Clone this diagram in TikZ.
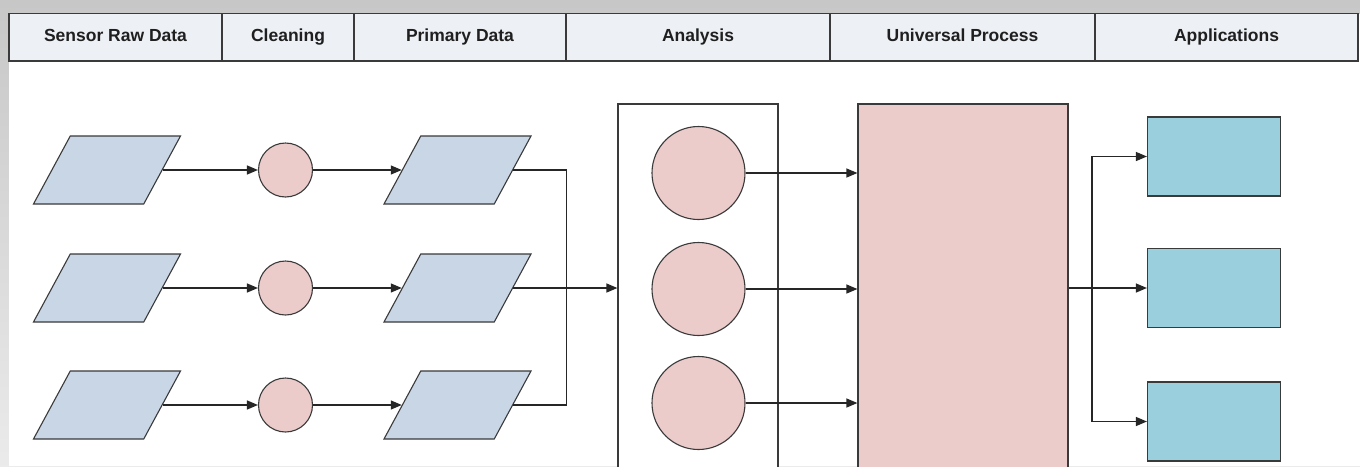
\documentclass[tikz,border=0pt]{standalone}
\usepackage{fontspec}
\setmainfont{Liberation Sans}
\usetikzlibrary{positioning,shapes.geometric,arrows.meta}

\definecolor{edgegray}{HTML}{3A3A3A}
\definecolor{headfill}{HTML}{EDF0F5}
\definecolor{rawblue}{HTML}{C9D6E6}
\definecolor{cleanpink}{HTML}{ECCBCB}
\definecolor{appcyan}{HTML}{9AD0DE}

\begin{document}
\begin{tikzpicture}[x=1pt, y=-1pt,
  head/.style={draw=edgegray, fill=headfill, line width=1.2pt, minimum height=47.5pt,
    inner sep=0pt, outer sep=0pt, text=black!88, text height=12.5pt, text depth=4.5pt,
    font=\fontsize{17.5}{20}\selectfont\bfseries},
  datashape/.style={trapezium, trapezium left angle=63.4, trapezium right angle=116.6,
    trapezium stretches=true, minimum width=147pt, minimum height=68pt,
    draw=edgegray, fill=rawblue, line width=1.1pt, inner sep=1pt},
  cleandot/.style={circle, draw=edgegray, fill=cleanpink, line width=1.1pt,
    minimum size=54pt, inner sep=0pt},
  anadot/.style={cleandot, minimum size=93pt},
  tallbox/.style={rectangle, draw=edgegray, line width=1.2pt, minimum width=#1,
    minimum height=376pt, inner sep=0pt},
  appbox/.style={rectangle, draw=edgegray, fill=appcyan, line width=1.2pt,
    minimum width=133pt, minimum height=79pt, inner sep=0pt},
  conn/.style={line width=1.3pt, draw=black!85},
  arr/.style={conn, -{Triangle[length=11pt, width=9pt]}}]

  \useasboundingbox (0,0) rectangle (1360,466);
  \shade[top color=black!22, bottom color=black!8] (0,0) rectangle (1360,466);
  \fill[white] (9,13.5) rectangle (1360,466);
  \clip (0,0) rectangle (1360,466);

  \node[head, minimum width=213pt, anchor=north west] (hraw) at (9,13.5) {Sensor Raw Data};
  \node[head, minimum width=132pt, right=0pt of hraw] (hclean) {Cleaning};
  \node[head, minimum width=212pt, right=0pt of hclean] (hprim) {Primary Data};
  \node[head, minimum width=264pt, right=0pt of hprim] (hana) {Analysis};
  \node[head, minimum width=265pt, right=0pt of hana] (huni) {Universal Process};
  \node[head, minimum width=263pt, right=0pt of huni] (happ) {Applications};

  \node[tallbox=160pt, fill=white] (abox) at (698,292) {};
  \node[tallbox=210pt, fill=cleanpink] (uproc) at (963,292) {};

  \foreach \i/\y in {1/170, 2/288, 3/405} {
    \node[datashape] (raw\i) at (107,\y) {};
    \node[cleandot] (clean\i) at (285.5,\y) {};
    \node[datashape] (prim\i) at (457.5,\y) {};
    \draw[arr] (raw\i.east) -- (clean\i.west);
    \draw[arr] (clean\i.east) -- (prim\i.west);
  }

  \foreach \i/\y in {1/173, 2/289, 3/403} {
    \node[anadot] (ana\i) at (698.5,\y) {};
    \draw[arr] (ana\i.east) -- (ana\i -| uproc.west);
  }

  \node[appbox] (app1) at (1214,156.5) {};
  \node[appbox] (app2) at (1214,288) {};
  \node[appbox] (app3) at (1214,421.5) {};

  \coordinate (merge) at (566.5,288);
  \draw[conn] (prim1.east) -| (merge);
  \draw[conn] (prim3.east) -| (merge);
  \draw[arr] (prim2.east) -- (abox.west |- prim2.east);

  \coordinate (split) at (1092,288);
  \draw[conn] (uproc.east |- split) -- (split);
  \draw[arr] (split) |- (app1.west);
  \draw[arr] (split) -- (app2.west);
  \draw[arr] (split) |- (app3.west);
\end{tikzpicture}
\end{document}
